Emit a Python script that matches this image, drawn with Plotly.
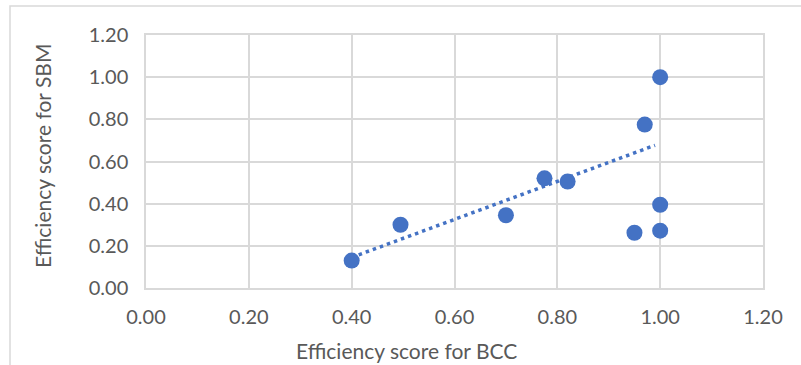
import plotly.graph_objects as go

bcc = [0.40, 0.495, 0.70, 0.775, 0.82, 0.97, 1.00, 1.00, 1.00, 0.95]
sbm = [0.13, 0.30, 0.345, 0.52, 0.505, 0.775, 1.00, 0.395, 0.272, 0.262]
trend_x = [0.40, 0.99]
trend_y = [0.145, 0.677]
tick_vals = [0.0, 0.2, 0.4, 0.6, 0.8, 1.0, 1.2]
tick_text = ["0.00", "0.20", "0.40", "0.60", "0.80", "1.00", "1.20"]

W, H = 801, 365
L, R, T, B = 146, 38, 35, 77
pw, ph = W - L - R, H - T - B

blue = "#4472C4"
txt = "#595959"
grid = "#D9D9D9"
font = "Lato"

fig = go.Figure()
fig.add_trace(go.Scatter(x=trend_x, y=trend_y, mode="lines",
                         line=dict(color=blue, width=3.5, dash="3.5px,4px"),
                         hoverinfo="skip", showlegend=False))
fig.add_trace(go.Scatter(x=bcc, y=sbm, mode="markers",
                         marker=dict(color=blue, size=16, line=dict(width=0)),
                         showlegend=False))

axis_common = dict(tickvals=tick_vals, ticktext=tick_text, range=[0, 1.2],
                   showgrid=True, gridcolor=grid, gridwidth=1.5,
                   showline=True, linecolor=grid, linewidth=1.5, mirror=True,
                   zeroline=False, ticks="", fixedrange=True,
                   tickfont=dict(family=font, size=20, color=txt))
fig.update_xaxes(**axis_common, ticklabelstandoff=10)
fig.update_yaxes(**axis_common, ticklabelstandoff=12)

fig.add_annotation(text="Efficiency score for BCC", xref="paper", yref="paper",
                   x=(406 - L) / pw, y=-(350 - T - ph) / ph, showarrow=False,
                   xanchor="center", yanchor="middle",
                   font=dict(family=font, size=21, color=txt))
fig.add_annotation(text="Efficiency score for SBM", xref="paper", yref="paper",
                   x=(42 - L) / pw, y=1 - (156 - T) / ph, showarrow=False,
                   xanchor="center", yanchor="middle", textangle=-90,
                   font=dict(family=font, size=21, color=txt))

fig.add_shape(type="rect", xref="paper", yref="paper",
              x0=(10 - L) / pw, x1=(810 - L) / pw,
              y0=-(380 - T - ph) / ph, y1=1 + (T - 6) / ph,
              line=dict(color=grid, width=1.5), fillcolor="rgba(0,0,0,0)", layer="below")

fig.update_layout(width=W, height=H, margin=dict(l=L, r=R, t=T, b=B),
                  paper_bgcolor="white", plot_bgcolor="white",
                  font=dict(family=font, color=txt))
fig.write_html("out.html", config={"displayModeBar": False},
               post_script="document.body.style.margin='0';document.body.style.overflow='hidden';")
